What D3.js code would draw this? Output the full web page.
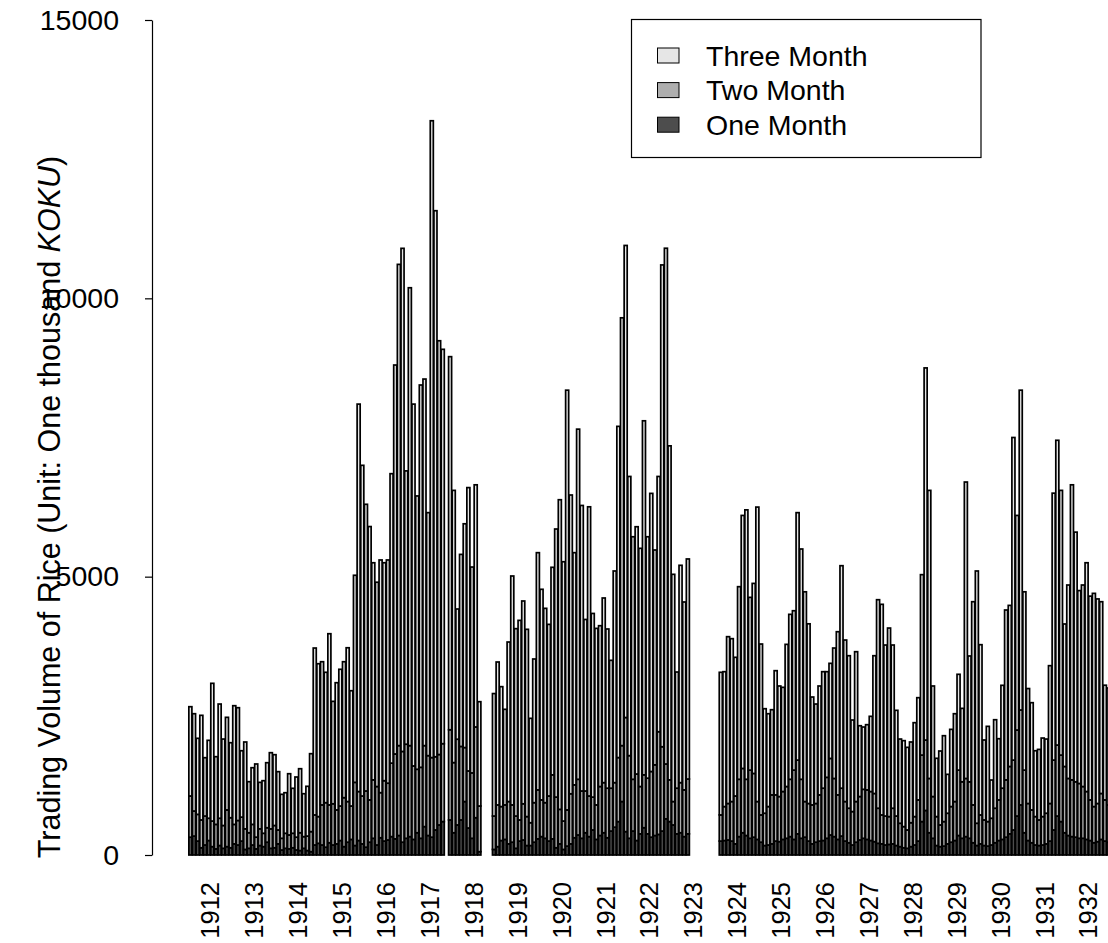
<!DOCTYPE html>
<html><head><meta charset="utf-8">
<script src="https://cdn.jsdelivr.net/npm/d3@7"></script>
<style>
body{margin:0;background:#fff}
text{font-family:"Liberation Sans", Arial, Helvetica, sans-serif;fill:#000}
</style>
</head><body>
<svg id="chart" width="1108" height="943"></svg>
<script>
const years = [1912,1913,1914,1915,1916,1917,1918,1919,1920,1921,1922,1923,1924,1925,1926,1927,1928,1929,1930,1931,1932];
const seriesNames = ["One Month","Two Month","Three Month"];
const legendOrder = ["Three Month","Two Month","One Month"];
const yTicks = [0,5000,10000,15000];
const yTitle = "Trading Volume of Rice (Unit: One thousand ";
const yTitleItalic = "KOKU";

// monthly values, one row of 12 per year (null = no trading)
const oneMonth = [
 320,340,250,130,180,260,150,110,170,120,150,130,
 200,180,250,100,120,180,110,170,150,230,120,130,
 200,90,120,110,130,90,80,120,80,60,180,210,
 180,140,220,180,200,260,150,230,280,170,260,200,
 140,230,300,180,310,250,270,330,290,350,230,300,
 330,280,400,300,510,350,320,450,540,600,null,630,
 400,540,630,960,485,300,670,60,null,null,null,100,
 150,260,280,200,230,120,250,270,170,170,230,290,
 330,300,250,290,130,200,100,160,200,310,360,300,
 400,330,450,280,350,400,310,430,500,600,960,420,
 300,430,260,380,490,380,320,350,370,430,650,600,
 540,380,400,330,380,null,null,null,null,null,null,null,
 null,250,260,270,250,200,330,400,350,300,320,280,
 230,170,180,200,250,240,280,300,330,280,380,300,
 320,250,200,230,250,260,300,360,330,280,340,250,
 220,180,230,270,300,280,260,240,210,200,180,190,
 200,170,150,130,120,150,180,250,600,800,400,300,
 170,150,160,200,230,260,350,300,330,300,220,170,
 200,170,160,180,220,260,280,320,380,450,700,900,
 400,260,220,180,170,180,200,250,450,700,600,400,
 350,330,320,300,300,280,260,220,240,280,250,230
];
const twoMonth = [
 740,450,480,500,520,400,460,440,490,410,660,540,
 350,440,430,370,280,370,210,300,240,260,350,400,
 250,210,270,250,260,230,320,210,260,360,540,480,
 720,800,680,740,610,620,880,730,600,1135,880,860,
 1010,760,1050,1050,810,1085,1020,1320,1525,1615,1630,1690,
 1635,1320,1140,1275,1455,1435,1430,1315,1265,1400,null,1620,
 1260,1540,1320,970,1025,1175,1630,820,null,null,null,600,
 750,610,620,760,670,580,380,650,520,410,710,880,
 660,640,810,1150,910,620,510,650,900,950,1000,850,
 750,730,590,620,880,900,890,770,800,1150,1005,2050,
 1485,930,1195,850,950,1000,1180,1270,1845,1515,985,750,
 420,820,900,840,985,null,null,null,null,null,null,null,
 null,470,610,655,710,860,1030,1155,1010,1225,1145,680,
 490,580,690,880,830,810,860,930,1030,1245,1325,1060,
 640,675,700,695,830,940,1095,1375,1045,800,860,710,
 620,600,730,780,880,890,880,865,630,520,520,500,
 640,530,420,380,330,430,510,740,1195,1265,975,750,
 520,390,440,550,640,700,1175,1015,1045,1015,680,400,
 520,460,440,480,620,730,920,1030,1210,1255,1545,1705,
 1125,665,590,510,460,510,550,675,1255,1275,1195,1190,
 1025,1020,995,985,930,860,730,650,685,825,740,670
];
const threeMonth = [
 1604,1748,1366,1879,1048,1400,2474,1216,2052,1553,1663,1347,
 2132,2026,1193,1560,917,1018,1315,835,945,1168,1368,1272,
 1047,790,729,1100,808,1081,1150,771,894,1400,2998,2746,
 2572,2342,3075,1840,2285,2456,2442,2763,2071,3720,6960,5940,
 5150,4910,3900,3670,4180,3915,4010,5200,6987,8645,9038,4910,
 8225,6500,4910,6868,6585,4365,11440,9809,7433,7084,null,6702,
 4890,2339,3450,4020,5090,3698,4350,1874,null,null,null,2200,
 2567,2154,1717,2866,4112,3366,3585,3643,3364,1875,2581,4261,
 3783,3491,3083,3728,4816,5562,4658,7540,5367,4171,6290,5129,
 3081,5195,3299,3171,2889,3317,2860,2297,3802,5950,7685,8480,
 5015,4357,4442,4279,6360,4337,4996,3859,4585,8655,9265,6000,
 4082,2087,3904,3375,3953,null,null,null,null,null,null,null,
 null,2562,2423,2997,2926,2491,3460,4545,4840,3103,3414,5290,
 3070,1878,1668,1530,2231,1986,1872,2554,2963,2863,4445,4137,
 3768,3228,1938,1787,1956,2093,1898,1708,2343,2931,3997,2902,
 2740,1645,2692,1272,1119,1171,1351,2475,3746,3783,3072,3387,
 2932,1899,1513,1544,1484,1450,1687,1836,3241,6685,5175,1986,
 1047,1328,1543,699,1387,1578,1721,1319,5325,2260,3650,4532,
 3058,1436,1711,687,1590,1099,1848,3051,2894,5795,3855,5745,
 3203,2065,1926,1183,1267,1411,1333,2476,4795,5475,4755,2560,
 3475,5300,4485,3465,3620,4110,3660,3830,3675,3445,2060,2100
];

const colors = {"One Month":"#4D4D4D","Two Month":"#AEAEAE","Three Month":"#E6E6E6"};

const rows = [];
years.forEach((yr, yi) => {
  for (let m = 0; m < 12; m++) {
    const i = yi * 12 + m;
    rows.push({idx: i, year: yr, "One Month": oneMonth[i], "Two Month": twoMonth[i], "Three Month": threeMonth[i]});
  }
});
const present = rows.filter(r => r["One Month"] !== null);

const svg = d3.select("#chart");
svg.append("rect").attr("width",1108).attr("height",943).attr("fill","#fff");

// R barplot user coords: bar i spans [0.2+1.2i, 1.2+1.2i]
const x = d3.scaleLinear().domain([-11.888, 314.488]).range([152, 1146.9]);
const y = d3.scaleLinear().domain([0, 15000]).range([855, 20]);

const stacked = d3.stack().keys(seriesNames)(present);

const g = svg.append("g");
stacked.forEach(layer => {
  g.append("g").selectAll("rect").data(layer).join("rect")
    .attr("x", d => x(0.2 + d.data.idx * 1.2))
    .attr("width", x(1) - x(0))
    .attr("y", d => y(d[1]))
    .attr("height", d => y(d[0]) - y(d[1]))
    .attr("fill", colors[layer.key])
    .attr("stroke", "#000")
    .attr("stroke-width", 1.7);
});

// y axis
const yAxis = d3.axisLeft(y).tickValues(yTicks).tickSize(7).tickSizeOuter(0).tickPadding(26).tickFormat(d3.format("d"));
const ya = svg.append("g").attr("transform","translate(152,0)").call(yAxis);
ya.selectAll("path,line").attr("stroke","#000").attr("stroke-width",1.2);
ya.selectAll("text").attr("font-size",28.5).attr("font-family","'Liberation Sans', Arial, sans-serif").attr("fill","#000");

// year labels
years.forEach((yr, yi) => {
  const cx = x(0.2 + (yi*12 + 5.5) * 1.2 + 0.5);
  svg.append("text")
    .attr("transform", `translate(${cx},882) rotate(-90)`)
    .attr("text-anchor","end")
    .attr("dominant-baseline","central")
    .attr("font-size",25.5)
    .text(yr);
});

// y title
const yt = svg.append("text")
  .attr("transform","translate(49,507) rotate(-90)")
  .attr("text-anchor","middle")
  .attr("dominant-baseline","central")
  .attr("font-size",30.5);
yt.append("tspan").text(yTitle);
yt.append("tspan").attr("font-style","italic").text(yTitleItalic);
yt.append("tspan").text(")");

// legend
const lg = svg.append("g");
lg.append("rect").attr("x",631.5).attr("y",19.5).attr("width",349.5).attr("height",138)
  .attr("fill","#fff").attr("stroke","#000").attr("stroke-width",1.2);
legendOrder.forEach((k, j) => {
  const cy = 55.5 + j * 34.6;
  lg.append("rect").attr("x",657.5).attr("y",cy-7.5).attr("width",21.5).attr("height",15)
    .attr("fill",colors[k]).attr("stroke","#000").attr("stroke-width",1);
  lg.append("text").attr("x",706).attr("y",cy).attr("dominant-baseline","central")
    .attr("font-size",28.5).text(k);
});
</script>
</body></html>
